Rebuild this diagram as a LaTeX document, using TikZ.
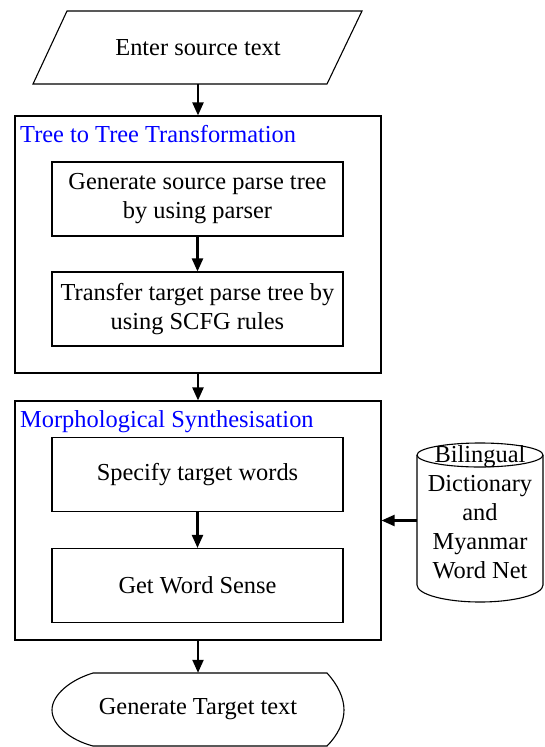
\documentclass[tikz,border=0pt]{standalone}
\usepackage{fontspec}
\setmainfont{Liberation Serif}
\usetikzlibrary{arrows.meta}
\definecolor{ttl}{RGB}{0,0,255}
\begin{document}
\begin{tikzpicture}[x=1pt,y=-1pt,
  every node/.style={font=\fontsize{24.4}{29}\selectfont},
  grp/.style={draw,line width=1.1pt,minimum width=366pt,inner sep=0pt},
  stepbox/.style={draw,line width=1.1pt,minimum width=291pt,minimum height=74pt,inner sep=0pt,align=center},
  arr/.style={line width=2.2pt,-{Triangle[length=13pt,width=11pt]}},
  ttlnode/.style={anchor=base west,text=ttl,inner sep=0pt},
  thin/.style={line width=1.1pt}]
\useasboundingbox (0,0) rectangle (544,747);
% input
\draw[thin] (67,11) -- (362,11) -- (327,84) -- (33,84) -- cycle;
\node[minimum height=73pt,inner sep=0pt] (in) at (198,47.5) {Enter source text};
% group 1
\node[grp,minimum height=257pt] (g1) at (198,244.5) {};
\node[ttlnode] (t1) at (20,142) {Tree to Tree Transformation};
\node[stepbox] (s1) at (197.5,199) {Generate source parse tree\\by using parser};
\node[stepbox] (s2) at (197.5,309) {Transfer target parse tree by\\using SCFG rules};
% group 2
\node[grp,minimum height=239pt] (g2) at (198,520.5) {};
\node[ttlnode] (t2) at (20,427) {Morphological Synthesisation};
\node[stepbox] (s3) at (197.5,474.5) {Specify target words};
\node[stepbox] (s4) at (197.5,585.5) {Get Word Sense};
% database
\draw[thin] (480,455) ellipse [x radius=63, y radius=12];
\draw[thin] (417,455) -- (417,585) arc [start angle=180,end angle=0,x radius=63,y radius=17] -- (543,455);
\node[minimum width=126pt,inner sep=0pt,align=center] (db) at (480,512)
  {Bilingual\\Dictionary\\and\\Myanmar\\Word Net};
% output
\node[minimum width=292pt,minimum height=73pt,inner sep=0pt] (out) at (198,709.5) {Generate Target text};
\draw[thin] (93,673) .. controls (70,680) and (52,695) .. (52,710)
  .. controls (52,725) and (70,740) .. (93,746) -- (327,746)
  .. controls (338,735) and (344,722) .. (344,710)
  .. controls (344,698) and (338,685) .. (327,673) -- cycle;
% connectors
\draw[arr] (in.south) -- (g1.north);
\draw[arr] (s1.south) -- (s2.north);
\draw[arr] (g1.south) -- (g2.north);
\draw[arr] (s3.south) -- (s4.north);
\draw[arr] (g2.south) -- (out.north);
\draw[arr] (db.west |- g2.east) -- (g2.east);
\end{tikzpicture}
\end{document}
